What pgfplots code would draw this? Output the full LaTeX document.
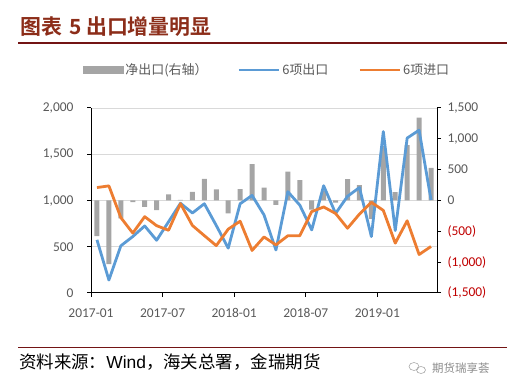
\documentclass[border=0pt]{standalone}
\usepackage{fontspec}
\setmainfont{Carlito}
\newfontfamily\cjk[BoldFont={* Bold}]{Noto Sans CJK SC}
\newfontfamily\arialf{Liberation Sans}
\usepackage{pgfplots}
\pgfplotsset{compat=1.18}
\definecolor{expblue}{RGB}{91,155,213}
\definecolor{imporange}{RGB}{237,125,49}
\definecolor{bargray}{RGB}{165,165,165}
\definecolor{ticktext}{RGB}{89,89,89}
\definecolor{negred}{RGB}{192,0,0}
\definecolor{titlered}{RGB}{140,45,25}
\definecolor{rulered}{RGB}{115,20,20}
\definecolor{gridgray}{RGB}{217,217,217}
\pgfplotstableread{
x exp imp net
0.5 575 1140 -578
1.5 140 1158 -1030
2.5 510 815 -290
3.5 610 648 -25
4.5 725 825 -103
5.5 570 728 -157
6.5 770 678 100
7.5 970 966 10
8.5 865 730 141
9.5 965 620 350
10.5 730 512 180
11.5 485 690 -210
12.5 965 776 185
13.5 1055 460 590
14.5 844 606 210
15.5 465 520 -70
16.5 1095 619 470
17.5 950 619 331
18.5 682 880 -150
19.5 1160 930 150
20.5 860 860 -35
21.5 1045 700 346
22.5 1140 853 250
23.5 610 980 -300
24.5 1745 893 880
25.5 675 539 137
26.5 1675 781 898
27.5 1760 416 1345
28.5 1005 503 531
}\datatable
\begin{document}
\begin{tikzpicture}
\useasboundingbox (0,0) rectangle (507bp,391bp);
% title and rules
\node[anchor=base west, inner sep=0pt, text=titlered, font=\cjk\bfseries\fontsize{21}{25}\selectfont] at (20bp,356bp) {图表\hspace{7bp}5 出口增量明显};
\draw[rulered, line width=2.5bp] (18bp,348bp) -- (507bp,348bp);
\draw[rulered, line width=1.5bp] (18bp,43.3bp) -- (507bp,43.3bp);
\node[anchor=west, inner sep=0pt, font=\cjk\fontsize{17.5}{20}\selectfont] at (19bp,29.3bp) {资料来源：{\arialf Wind}，海关总署，金瑞期货};
\node[anchor=west, inner sep=0pt, text=black!45, font=\cjk\fontsize{11.5}{13}\selectfont] at (432bp,23bp) {期货瑞享荟};
\draw[black!35, line width=0.6bp] (414bp,24.5bp) ellipse (5bp and 4bp);
\draw[black!35, line width=0.6bp] (421bp,21bp) ellipse (4.5bp and 3.5bp);
% right axis: bars
\begin{axis}[
  at={(91bp,98bp)}, anchor=south west, scale only axis,
  width=346bp, height=185bp,
  xmin=0, xmax=29, ymin=-1500, ymax=1500,
  axis x line=none, axis y line*=right,
  axis line style={black, line width=1bp},
  ytick={-1500,-1000,-500,0,500,1000,1500},
  yticklabels={\textcolor{negred}{(1,500)},\textcolor{negred}{(1,000)},\textcolor{negred}{(500)},0,500,{1,000},{1,500}},
  yticklabel style={font=\fontsize{13.5}{16}\selectfont, text=ticktext, xshift=3bp},
  tick align=outside, major tick length=4bp,
  tick style={black, line width=1bp},
  extra y ticks={-750,0,750,1500},
  extra y tick labels={},
  extra y tick style={grid=major, major tick length=0pt, grid style={gridgray, line width=0.8bp}},
  ybar, bar width=5bp,
]
\addplot[fill=bargray, draw=none] table[x=x, y=net] {\datatable};
\end{axis}
% left axis: lines
\begin{axis}[
  at={(91bp,98bp)}, anchor=south west, scale only axis,
  width=346bp, height=185bp,
  xmin=0, xmax=29, ymin=0, ymax=2000,
  axis x line*=bottom, axis y line*=left,
  axis line style={black, line width=1bp},
  xtick={0,6,12,18,24},
  xticklabels={2017-01,2017-07,2018-01,2018-07,2019-01},
  ytick={0,500,1000,1500,2000},
  yticklabels={0,500,{1,000},{1,500},{2,000}},
  ticklabel style={font=\fontsize{13.5}{16}\selectfont, text=ticktext},
  xticklabel style={yshift=-8bp},
  yticklabel style={xshift=-10bp},
  tick align=outside, major tick length=4bp,
  tick style={black, line width=1bp},
  legend columns=3,
  legend cell align=left,
  legend image code/.code={\draw[#1] (0bp,0bp) -- (40bp,0bp);},
  legend style={draw=none, fill=none, at={(0.509,1.205)}, anchor=center,
    font=\cjk\fontsize{13}{15}\selectfont, text=ticktext,
    /tikz/every even column/.append style={column sep=28bp}},
]
\addlegendimage{legend image code/.code={\fill[bargray] (0bp,-3.5bp) rectangle (40bp,3.5bp);}}
\addlegendentry{净出口(右轴）}
\addplot[expblue, line width=2.8bp, line join=round] table[x=x, y=exp] {\datatable};
\addlegendentry{6项出口}
\addplot[imporange, line width=2.8bp, line join=round] table[x=x, y=imp] {\datatable};
\addlegendentry{6项进口}
\end{axis}
\end{tikzpicture}
\end{document}
